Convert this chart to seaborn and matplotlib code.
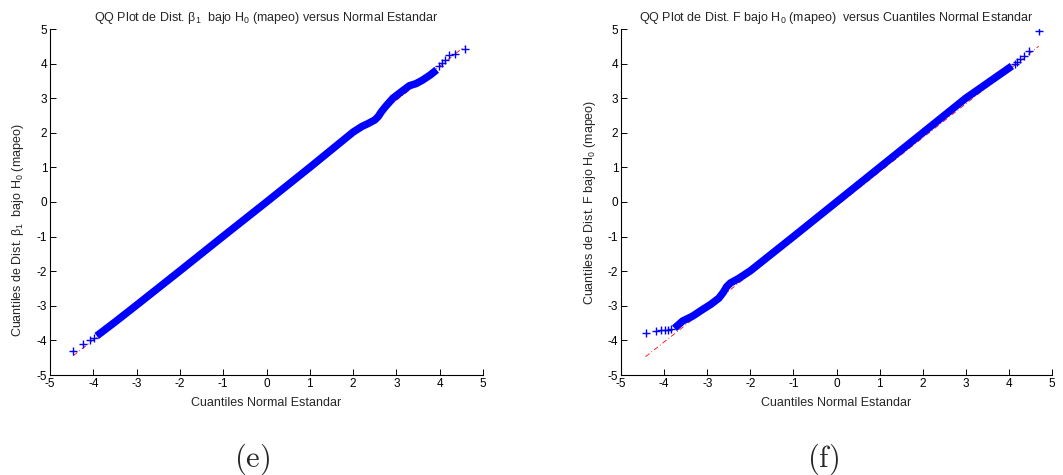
import matplotlib
matplotlib.use("Agg")
import matplotlib.pyplot as plt
import seaborn as sns
import numpy as np

# ---- panel (e): beta_1 under H0 vs standard normal ----
e_body_x = [-3.92, -3.5, -3.0, -2.0, -1.0, 0.0, 1.0, 2.0, 2.2, 2.35, 2.5, 2.58, 2.66,
            2.75, 2.92, 3.15, 3.3, 3.45, 3.6, 3.78, 3.93]
e_body_y = [-3.87, -3.47, -2.98, -1.99, -0.99, 0.0, 1.0, 2.02, 2.18, 2.27, 2.37, 2.47, 2.62,
            2.76, 3.0, 3.22, 3.36, 3.42, 3.52, 3.67, 3.82]
e_tail_x = [-4.46, -4.23, -4.08, -3.98, 3.98, 4.05, 4.12, 4.21, 4.35, 4.58]
e_tail_y = [-4.30, -4.11, -4.00, -3.93, 3.93, 4.03, 4.10, 4.24, 4.28, 4.41]
e_ref_x = [-4.46, 4.58]
e_ref_y = [-4.44, 4.50]

# ---- panel (f): F under H0 vs standard normal ----
f_body_x = [-3.76, -3.57, -3.34, -3.11, -2.92, -2.73, -2.62, -2.55, -2.46, -2.27, -2.0,
            -1.0, 0.0, 1.0, 2.0, 3.0, 4.07]
f_body_y = [-3.65, -3.44, -3.30, -3.11, -2.96, -2.78, -2.60, -2.45, -2.34, -2.21, -1.99,
            -1.0, 0.0, 1.0, 2.0, 3.0, 3.93]
f_tail_x = [-4.43, -4.19, -4.08, -3.99, -3.91, -3.83, 4.13, 4.19, 4.26, 4.34, 4.46, 4.69]
f_tail_y = [-3.78, -3.74, -3.71, -3.71, -3.70, -3.68, 3.99, 4.05, 4.12, 4.22, 4.36, 4.94]
f_ref_x = [-4.43, 4.69]
f_ref_y = [-4.47, 4.50]

ticks = [-5, -4, -3, -2, -1, 0, 1, 2, 3, 4, 5]

titles = [
    "QQ Plot de Dist. β$_1$  bajo H$_0$ (mapeo) versus Normal Estandar",
    "QQ Plot de Dist. F bajo H$_0$ (mapeo)  versus Cuantiles Normal Estandar",
]
ylabels = [
    "Cuantiles de Dist. β$_1$  bajo H$_0$ (mapeo)",
    "Cuantiles de Dist. F bajo H$_0$ (mapeo)",
]
ylabel_pos = [(-0.056, 0.42), (-0.054, 0.5)]
xlabel = "Cuantiles Normal Estandar"
captions = ["(e)", "(f)"]
caption_x = [252 / 1063, 823 / 1063]

sns.set_style("white")
plt.rcParams["font.family"] = ["Liberation Sans", "DejaVu Sans"]
plt.rcParams["mathtext.fontset"] = "custom"
plt.rcParams["mathtext.rm"] = "Liberation Sans"
plt.rcParams["mathtext.it"] = "Liberation Sans:italic"
plt.rcParams["axes.unicode_minus"] = False
plt.rcParams["xtick.direction"] = "in"
plt.rcParams["ytick.direction"] = "in"

fig = plt.figure(figsize=(10.63, 4.75), dpi=100)
axes = [fig.add_axes([50 / 1063, 100 / 475, 433 / 1063, 346 / 475]),
        fig.add_axes([621 / 1063, 100 / 475, 431 / 1063, 346 / 475])]

panels = [
    (e_body_x, e_body_y, e_tail_x, e_tail_y, e_ref_x, e_ref_y),
    (f_body_x, f_body_y, f_tail_x, f_tail_y, f_ref_x, f_ref_y),
]

for i, (ax, (bx, by, tx, ty, rx, ry)) in enumerate(zip(axes, panels)):
    # fitted reference line (red dash-dot)
    sns.lineplot(x=rx, y=ry, ax=ax, color="red", linewidth=0.6, sort=False,
                 dashes=False, zorder=1)
    ax.lines[-1].set_linestyle((0, (6, 3, 1, 3)))
    # dense body of the sample quantiles
    sns.lineplot(x=bx, y=by, ax=ax, color="blue", linewidth=5.4, sort=False, zorder=2)
    ax.lines[-1].set_solid_capstyle("butt")
    ax.lines[-1].set_solid_joinstyle("round")
    # sparse tail quantiles
    sns.scatterplot(x=tx, y=ty, ax=ax, marker="+", s=40, linewidth=1.0,
                    color="blue", zorder=3)

    ax.set_xlim(-5, 5)
    ax.set_ylim(-5, 5)
    ax.set_xticks(ticks)
    ax.set_yticks(ticks)
    ax.tick_params(axis="both", labelsize=8.5, length=4.5, width=0.7, pad=2,
                   colors="black", bottom=True, left=True)
    for side in ["top", "right"]:
        ax.spines[side].set_visible(False)
    for side in ["left", "bottom"]:
        ax.spines[side].set_color("black")
        ax.spines[side].set_linewidth(0.8)

    ax.set_title(titles[i], fontsize=9, pad=6)
    ax.set_xlabel(xlabel, fontsize=9, labelpad=5)
    ax.set_ylabel(ylabels[i], fontsize=9)
    ax.yaxis.set_label_coords(*ylabel_pos[i])

    fig.text(caption_x[i], 0.034, r"$\mathrm{" + captions[i] + "}$",
             fontsize=22, ha="center", va="center", math_fontfamily="cm")

fig.savefig("out.png", dpi=100)
